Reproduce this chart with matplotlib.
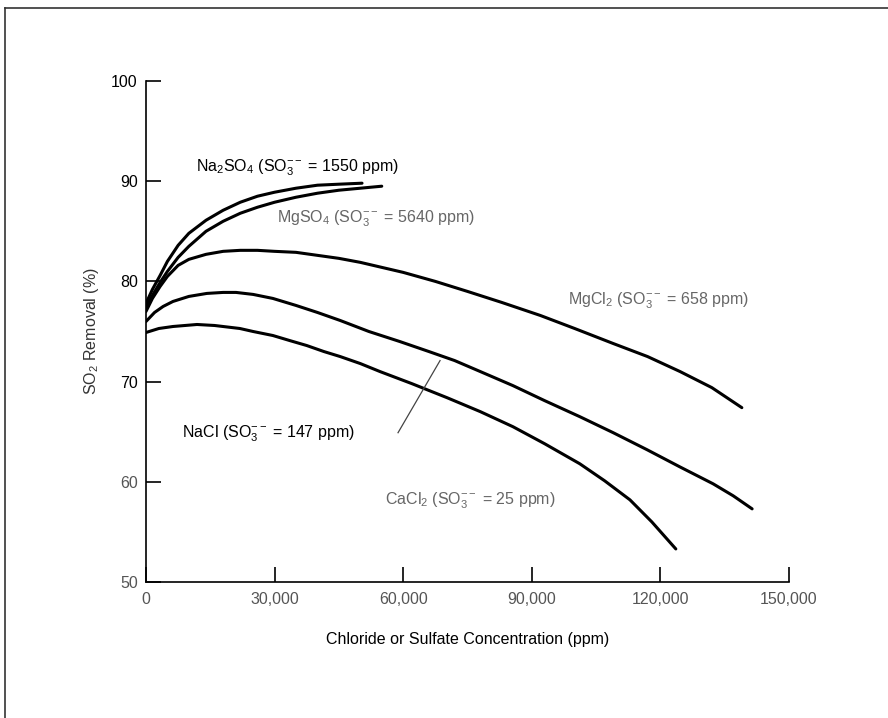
import numpy as np
import matplotlib
matplotlib.use('Agg')
import matplotlib.pyplot as plt
from matplotlib.lines import Line2D

plt.rcParams['font.family'] = ['Liberation Sans', 'DejaVu Sans']
plt.rcParams['mathtext.fontset'] = 'custom'
plt.rcParams['mathtext.rm'] = 'Liberation Sans'
plt.rcParams['mathtext.it'] = 'Liberation Sans'
plt.rcParams['mathtext.default'] = 'regular'

# curves: concentration (ppm) vs SO2 removal (%)
na2so4_x = [0, 1500, 3300, 5000, 7500, 10000, 14000, 18000, 22000, 26000, 30000, 35000, 40000, 45000, 50400]
na2so4_y = [77.8, 79.2, 80.6, 82.0, 83.6, 84.8, 86.1, 87.1, 87.9, 88.5, 88.9, 89.3, 89.6, 89.7, 89.8]

mgso4_x = [0, 1500, 3300, 5000, 7500, 10000, 14000, 18000, 22000, 26000, 30000, 35000, 40000, 45000, 50000, 55000]
mgso4_y = [77.4, 78.6, 79.9, 81.0, 82.4, 83.5, 85.0, 86.0, 86.8, 87.4, 87.9, 88.4, 88.8, 89.1, 89.3, 89.5]

mgcl2_x = [0, 1500, 3300, 5000, 7500, 10000, 14000, 18000, 22000, 26000, 30000, 35000, 40000, 45000,
           50000, 55000, 60000, 67500, 75000, 83000, 92000, 100000, 109000, 117000, 124600, 132000, 139000]
mgcl2_y = [77.0, 78.3, 79.5, 80.5, 81.6, 82.2, 82.7, 83.0, 83.1, 83.1, 83.0, 82.9, 82.6, 82.3,
           81.9, 81.4, 80.9, 80.0, 79.0, 77.9, 76.6, 75.3, 73.8, 72.5, 71.0, 69.4, 67.4]

nacl_x = [0, 2000, 4000, 6300, 10000, 14200, 18000, 21000, 25000, 29600, 35000, 40000, 45300, 52000,
          59200, 66000, 72000, 78000, 85600, 93000, 101200, 109000, 116900, 124500, 132300, 137000, 141400]
nacl_y = [76.0, 76.9, 77.5, 78.0, 78.5, 78.8, 78.9, 78.9, 78.7, 78.3, 77.6, 76.9, 76.1, 75.0,
          74.0, 73.0, 72.1, 71.0, 69.6, 68.1, 66.5, 64.9, 63.2, 61.5, 59.8, 58.6, 57.3]

cacl2_x = [0, 3000, 6300, 11900, 16000, 21900, 25000, 29600, 33500, 37500, 41500, 45300, 50000, 54600,
           62000, 70200, 78000, 85600, 93000, 101200, 107000, 112900, 118000, 123600]
cacl2_y = [74.9, 75.3, 75.5, 75.7, 75.6, 75.3, 75.0, 74.6, 74.1, 73.6, 73.0, 72.5, 71.8, 71.0,
           69.8, 68.4, 67.0, 65.5, 63.8, 61.8, 60.1, 58.2, 56.0, 53.3]

xticks = [0, 30000, 60000, 90000, 120000, 150000]
xticklabels = ['0', '30,000', '60,000', '90,000', '120,000', '150,000']
yticks = [50, 60, 70, 80, 90, 100]

fig = plt.figure(figsize=(8.88, 7.18), dpi=100)
ax = fig.add_axes([0.1644, 0.1894, 0.7241, 0.6978])

for xs, ys in [(na2so4_x, na2so4_y), (mgso4_x, mgso4_y), (mgcl2_x, mgcl2_y),
               (nacl_x, nacl_y), (cacl2_x, cacl2_y)]:
    ax.plot(xs, ys, color='black', lw=2.2, solid_capstyle='round', solid_joinstyle='round')

# pointer for the NaCl label
ax.plot([58800, 68600], [64.9, 72.1], color='#444444', lw=0.9)

ax.set_xlim(0, 150000)
ax.set_ylim(50, 100)
ax.set_xticks(xticks)
ax.set_xticklabels(xticklabels)
ax.set_yticks(yticks)
for lab in ax.get_xticklabels():
    lab.set_color('#555555')
for lab, v in zip(ax.get_yticklabels(), yticks):
    lab.set_color('#555555' if v <= 60 else 'black')

ax.spines['top'].set_visible(False)
ax.spines['right'].set_visible(False)
ax.spines['left'].set_linewidth(1.2)
ax.spines['bottom'].set_linewidth(1.2)
ax.tick_params(direction='in', length=11, width=1.2, labelsize=11.5)
ax.tick_params(axis='y', pad=6)
ax.tick_params(axis='x', pad=7)

ax.set_xlabel('Chloride or Sulfate Concentration (ppm)', fontsize=11.5)
ax.set_ylabel(r'SO$_2$ Removal (%)', fontsize=11.5, color='#333333')
ax.xaxis.set_label_coords(0.5, -0.100)
ax.yaxis.set_label_coords(-0.07, 0.5)

fs = 11.5
ax.text(11700, 91.3, r'Na$_2$SO$_4$ (SO$_3^{--}$ = 1550 ppm)', fontsize=fs, va='center')
ax.text(30600, 86.3, r'MgSO$_4$ (SO$_3^{--}$ = 5640 ppm)', fontsize=fs, va='center', color='#666666')
ax.text(98400, 78.1, r'MgCl$_2$ (SO$_3^{--}$ = 658 ppm)', fontsize=fs, va='center', color='#666666')
ax.text(8400, 64.8, r'NaCl (SO$_3^{--}$ = 147 ppm)', fontsize=fs, va='center')
ax.text(55700, 58.1, r'CaCl$_2$ (SO$_3^{--}$ = 25 ppm)', fontsize=fs, va='center', color='#666666')

# page frame (top and left edges)
fig.add_artist(Line2D([0.0056, 1.0], [0.9889, 0.9889], color='#333333', lw=1.2))
fig.add_artist(Line2D([0.0056, 0.0056], [0.0, 0.9889], color='#333333', lw=1.2))

fig.savefig('out.png', dpi=100)
